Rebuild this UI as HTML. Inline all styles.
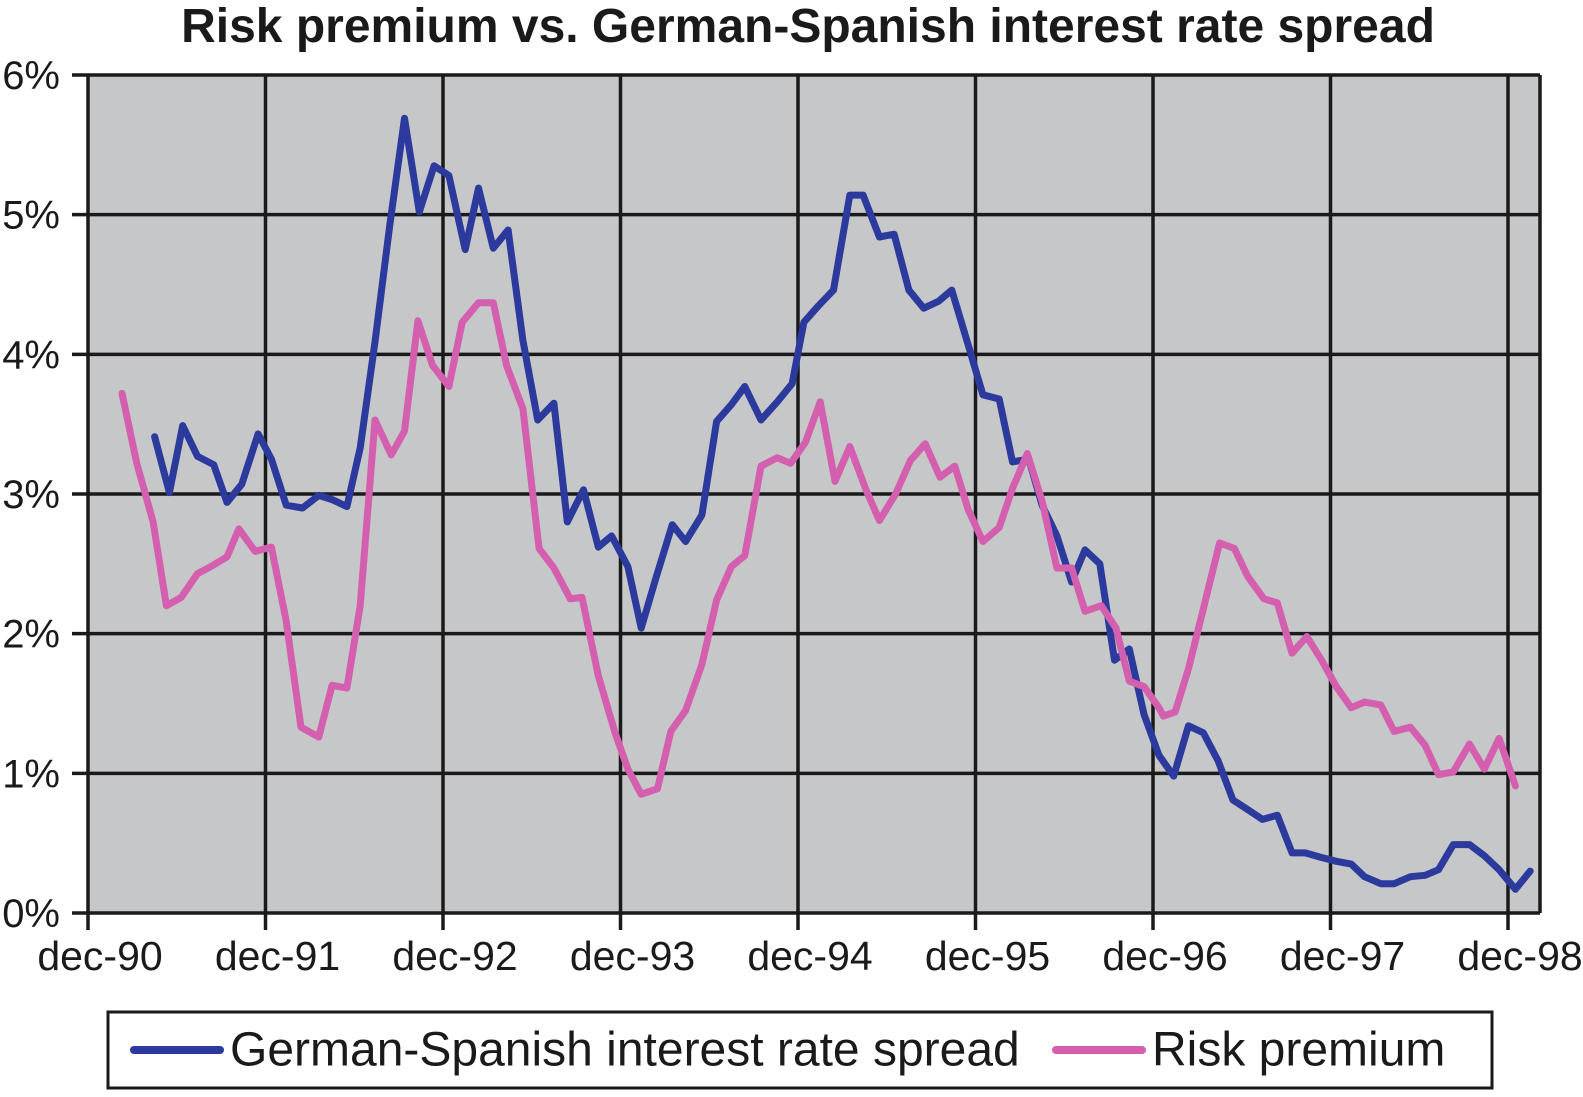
<!DOCTYPE html>
<html><head><meta charset="utf-8"><style>
body{margin:0;background:#fff;}
svg text{font-family:"Liberation Sans",Arial,sans-serif;fill:#1a1a1a;}
</style></head><body>
<svg id="chart" width="1583" height="1092" xmlns="http://www.w3.org/2000/svg">
<text x="808" y="42" text-anchor="middle" font-size="48" font-weight="bold">Risk premium vs. German-Spanish interest rate spread</text>
<g id="plot"></g>
<rect x="108" y="1012" width="1384" height="76" fill="none" stroke="#1a1a1a" stroke-width="3"/>
<line x1="134" y1="1050" x2="220" y2="1050" stroke="#2b3a9c" stroke-width="8" stroke-linecap="round"/>
<text x="230" y="1053" font-size="48" dominant-baseline="middle">German-Spanish interest rate spread</text>
<line x1="1056" y1="1050" x2="1142" y2="1050" stroke="#d45fae" stroke-width="8" stroke-linecap="round"/>
<text x="1152" y="1053" font-size="48" dominant-baseline="middle">Risk premium</text>
</svg>
<script>
const xTickLabels=["dec-90","dec-91","dec-92","dec-93","dec-94","dec-95","dec-96","dec-97","dec-98"];
const yTickLabels=["0%","1%","2%","3%","4%","5%","6%"];
const riskMonths=[2.3,3.3,4.4,5.3,6.3,7.4,8.3,9.4,10.2,11.3,12.4,13.4,14.4,15.6,16.5,17.5,18.4,19.4,20.5,21.4,22.3,23.3,24.4,25.3,26.4,27.4,28.3,29.4,30.5,31.5,32.6,33.4,34.5,35.6,36.5,37.4,38.5,39.4,40.4,41.5,42.5,43.5,44.4,45.5,46.6,47.5,48.5,49.5,50.5,51.5,52.6,53.5,54.6,55.6,56.6,57.6,58.6,59.5,60.5,61.6,62.5,63.5,64.5,65.5,66.5,67.4,68.5,69.5,70.4,71.4,72.4,72.7,73.5,74.4,75.5,76.5,77.5,78.4,79.5,80.4,81.4,82.4,83.4,84.4,85.4,86.3,87.4,88.3,89.4,90.4,91.3,92.3,93.4,94.4,95.4,96.5];
const riskValues=[3.72,3.22,2.8,2.2,2.26,2.43,2.48,2.55,2.75,2.59,2.62,2.09,1.33,1.26,1.63,1.61,2.2,3.53,3.28,3.45,4.24,3.92,3.77,4.23,4.37,4.37,3.92,3.61,2.61,2.47,2.25,2.26,1.7,1.3,1.03,0.85,0.89,1.3,1.45,1.78,2.24,2.48,2.56,3.2,3.26,3.22,3.37,3.66,3.09,3.34,3.03,2.81,3.0,3.24,3.36,3.12,3.2,2.89,2.66,2.76,3.04,3.29,2.95,2.47,2.47,2.16,2.2,2.04,1.66,1.62,1.47,1.41,1.44,1.75,2.22,2.65,2.61,2.41,2.25,2.22,1.86,1.98,1.81,1.62,1.47,1.51,1.49,1.3,1.33,1.2,0.99,1.01,1.21,1.03,1.25,0.91];
const spreadMonths=[4.5,5.5,6.4,7.4,8.5,9.4,10.4,11.5,12.4,13.4,14.5,15.6,16.5,17.5,18.4,19.4,20.4,21.4,22.4,23.4,24.4,25.5,26.4,27.4,28.4,29.4,30.4,31.5,32.4,33.5,34.5,35.4,36.5,37.4,38.4,39.5,40.4,41.5,42.5,43.5,44.4,45.5,46.6,47.6,48.4,49.4,50.4,51.5,52.4,53.5,54.5,55.5,56.5,57.5,58.4,59.5,60.5,61.6,62.5,63.6,64.5,65.5,66.5,67.4,68.4,69.4,70.4,71.4,72.4,73.4,74.4,75.4,76.4,77.4,78.4,79.4,80.4,81.4,82.3,83.3,84.4,85.4,86.3,87.4,88.3,89.4,90.4,91.3,92.3,93.4,94.4,95.4,96.5,97.5];
const spreadValues=[3.41,3.01,3.49,3.27,3.21,2.94,3.07,3.43,3.25,2.92,2.9,2.99,2.96,2.91,3.33,4.09,4.92,5.69,5.02,5.35,5.28,4.75,5.19,4.76,4.89,4.1,3.53,3.65,2.8,3.03,2.62,2.7,2.48,2.04,2.4,2.78,2.66,2.85,3.52,3.64,3.77,3.53,3.66,3.79,4.23,4.35,4.46,5.14,5.14,4.84,4.86,4.46,4.33,4.38,4.46,4.07,3.71,3.68,3.23,3.25,2.92,2.7,2.37,2.6,2.5,1.81,1.89,1.42,1.13,0.98,1.34,1.29,1.09,0.81,0.74,0.67,0.7,0.43,0.43,0.4,0.37,0.35,0.26,0.21,0.21,0.26,0.27,0.31,0.49,0.49,0.41,0.31,0.17,0.3];

const NS='http://www.w3.org/2000/svg';
const L=88,R=1540,T=75,B=913;
const xScale=m=>L+m*(1508-L)/96;
const yScale=v=>B-v*(B-T)/6;
const g=document.getElementById('plot');
function mk(t,a){const e=document.createElementNS(NS,t);for(const k in a)e.setAttribute(k,a[k]);g.appendChild(e);return e;}
const bg=mk('rect',{x:L,y:T,width:R-L,height:B-T,fill:'#c6c7c9'});


yTickLabels.forEach((lab,i)=>{
  const y=yScale(i);
  const ln=mk('line',{x1:L-16,y1:y,x2:R,y2:y,stroke:'#1a1a1a','stroke-width':3.5});
  
  
  const t=mk('text',{x:60,y:y+14,'text-anchor':'end','font-size':40});
  t.textContent=lab;
  
  
});
xTickLabels.forEach((lab,i)=>{
  const x=xScale(i*12);
  const ln=mk('line',{x1:x,y1:T,x2:x,y2:B+17,stroke:'#1a1a1a','stroke-width':3.5});
  
  
  const t=mk('text',{x:x+12,y:970,'text-anchor':'middle','font-size':41});
  t.textContent=lab;
  
  
});
const br=mk('line',{x1:R,y1:T,x2:R,y2:B,stroke:'#1a1a1a','stroke-width':3.5});


function series(ms,vs,color,name){
  const d=ms.map((m,i)=>(i?'L':'M')+xScale(m).toFixed(1)+','+yScale(vs[i]).toFixed(1)).join(' ');
  const p=mk('path',{d:d,fill:'none',stroke:color,'stroke-width':7,'stroke-linejoin':'round','stroke-linecap':'round'});
  
  
}
series(spreadMonths,spreadValues,'#2b3a9c','spread-line');
series(riskMonths,riskValues,'#d45fae','risk-premium-line');
</script>
</body></html>
